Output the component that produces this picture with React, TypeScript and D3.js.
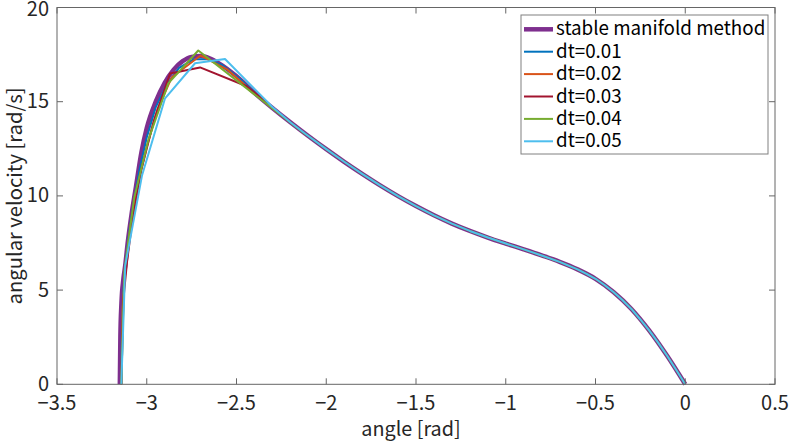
import React, { useEffect } from "react";
import * as d3 from "d3";

type P = [number, number];

const xTicks = [-3.5, -3, -2.5, -2, -1.5, -1, -0.5, 0, 0.5];
const yTicks = [0, 5, 10, 15, 20];

// stable manifold method (angle, angular velocity)
const manifold: P[] = [
  [-3.15, 0], [-3.147, 2.5], [-3.141, 4.3], [-3.13, 5.6], [-3.12, 6.3], [-3.105, 7.6],
  [-3.085, 9.0], [-3.06, 10.5], [-3.03, 12.3], [-3.0, 13.6], [-2.95, 15.0], [-2.9, 16.0],
  [-2.85, 16.7], [-2.8, 17.15], [-2.75, 17.38], [-2.7, 17.42], [-2.65, 17.3], [-2.6, 17.05],
  [-2.5, 16.35], [-2.4, 15.47], [-2.3, 14.67], [-2.2, 13.91], [-2.1, 13.18], [-2.0, 12.48],
  [-1.9, 11.81], [-1.8, 11.17], [-1.7, 10.56], [-1.6, 9.99], [-1.5, 9.46], [-1.4, 8.97],
  [-1.3, 8.53], [-1.2, 8.14], [-1.1, 7.79], [-1.0, 7.47], [-0.9, 7.16], [-0.8, 6.84],
  [-0.7, 6.5], [-0.6, 6.1], [-0.5, 5.6], [-0.4, 4.9], [-0.3, 4.0], [-0.2, 2.85],
  [-0.1, 1.5], [0, 0],
];

// common descending part where all dt trajectories coincide
const sharedTail: P[] = [
  [-2.2, 13.91], [-2.1, 13.18], [-2.0, 12.48], [-1.9, 11.81], [-1.8, 11.17], [-1.7, 10.56],
  [-1.6, 9.99], [-1.5, 9.46], [-1.4, 8.97], [-1.3, 8.53], [-1.2, 8.14], [-1.1, 7.79],
  [-1.0, 7.47], [-0.9, 7.16], [-0.8, 6.84], [-0.7, 6.5], [-0.6, 6.1], [-0.55, 5.86],
  [-0.5, 5.6], [-0.45, 5.27], [-0.4, 4.9], [-0.35, 4.47], [-0.3, 4.0], [-0.25, 3.44],
  [-0.2, 2.85], [-0.15, 2.2], [-0.1, 1.5], [-0.05, 0.76], [0, 0],
];

const dt01Head: P[] = [
  [-3.1416, 0], [-3.138, 3.0], [-3.13, 5.0], [-3.115, 6.6], [-3.095, 8.3], [-3.07, 9.8],
  [-3.04, 11.4], [-3.0, 13.1], [-2.95, 14.7], [-2.89, 15.9], [-2.82, 16.8], [-2.74, 17.25],
  [-2.66, 17.25], [-2.58, 16.95], [-2.48, 16.2], [-2.36, 15.15],
];
const dt02Head: P[] = [
  [-3.1416, 0], [-3.135, 4.0], [-3.12, 6.0], [-3.09, 8.5], [-3.05, 10.6], [-3.0, 12.6],
  [-2.94, 14.6], [-2.86, 16.3], [-2.7, 17.45], [-2.55, 16.7], [-2.4, 15.45],
];
const dt03Head: P[] = [
  [-3.1416, 0], [-3.13, 4.5], [-3.11, 6.5], [-3.08, 8.7], [-3.03, 11.4], [-2.96, 14.0],
  [-2.87, 16.5], [-2.703, 16.82], [-2.443, 15.82],
];
const dt04Head: P[] = [
  [-3.1416, 0], [-3.125, 6.0], [-3.07, 9.9], [-2.99, 13.0], [-2.88, 15.97],
  [-2.713, 17.72], [-2.12, 13.3],
];
const dt05Head: P[] = [
  [-3.1416, 0], [-3.12, 6.3], [-3.026, 11.1], [-2.898, 15.18], [-2.731, 17.04],
  [-2.564, 17.27], [-2.3, 14.72],
];

const legendLabels = ["stable manifold method", "dt=0.01", "dt=0.02", "dt=0.03", "dt=0.04", "dt=0.05"];
const colors = ["#7E2F8E", "#0072BD", "#D95319", "#A2142F", "#77AC30", "#4DBEEE"];
const widths = [4.5, 2, 2, 2, 2, 2];

const withTail = (head: P[]): P[] => {
  const lastX = head[head.length - 1][0];
  return head.concat(sharedTail.filter((p) => p[0] > lastX + 1e-6));
};

const series: P[][] = [
  manifold,
  withTail(dt01Head),
  withTail(dt02Head),
  withTail(dt03Head),
  withTail(dt04Head),
  withTail(dt05Head),
];

const W = 789;
const H = 442;
const L = 57, R = 775, T = 7.5, B = 384.3;
const FONT = "'Noto Sans CJK JP', 'Noto Sans', sans-serif";

export default function App() {
  useEffect(() => {
    document.body.style.margin = "0";
  }, []);
  const x = d3.scaleLinear().domain([-3.5, 0.5]).range([L, R]);
  const y = d3.scaleLinear().domain([0, 20]).range([B, T]);
  const smooth = d3.line<P>().x((d) => x(d[0])).y((d) => y(d[1])).curve(d3.curveMonotoneX);
  const poly = d3.line<P>().x((d) => x(d[0])).y((d) => y(d[1]));
  const fmt = (v: number) => String(v).replace("-", "\u2212");
  const tick = 6;
  const axisColor = "#666";
  const textColor = "#262626";

  const legX = 521, legY = 15, legW = 247, legH = 139;
  const rowH = 22.4;

  return (
    <svg width={W} height={H} style={{ display: "block", background: "#fff" }} fontFamily={FONT}>
      <rect x={0} y={0} width={W} height={H} fill="#fff" />
      {/* lines */}
      <g fill="none" strokeLinejoin="round" strokeLinecap="butt">
        {series.map((s, i) => (
          <path
            key={i}
            d={(i === 0 ? smooth(s) : poly(s)) || ""}
            stroke={colors[i]}
            strokeWidth={widths[i]}
          />
        ))}
      </g>
      {/* box */}
      <rect x={L} y={T} width={R - L} height={B - T} fill="none" stroke={axisColor} strokeWidth={1} />
      {/* ticks */}
      <g stroke={axisColor} strokeWidth={1}>
        {xTicks.map((t) => (
          <g key={"x" + t}>
            <line x1={x(t)} x2={x(t)} y1={B} y2={B - tick} />
            <line x1={x(t)} x2={x(t)} y1={T} y2={T + tick} />
          </g>
        ))}
        {yTicks.map((t) => (
          <g key={"y" + t}>
            <line x1={L} x2={L + tick} y1={y(t)} y2={y(t)} />
            <line x1={R} x2={R - tick} y1={y(t)} y2={y(t)} />
          </g>
        ))}
      </g>
      <g fill={textColor} fontSize={20}>
        {xTicks.map((t) => (
          <text key={"xl" + t} x={x(t)} y={B + 20.5} textAnchor="middle" dominantBaseline="middle">
            {fmt(t)}
          </text>
        ))}
        {yTicks.map((t) => (
          <text key={"yl" + t} x={L - 8} y={Math.max(y(t) + 1, 11)} textAnchor="end" dominantBaseline="middle">
            {fmt(t)}
          </text>
        ))}
      </g>
      <text x={(L + R) / 2 - 5} y={431} textAnchor="middle" dominantBaseline="middle" fontSize={19.8} fill={textColor}>
        angle [rad]
      </text>
      <text
        transform={`translate(17,${(T + B) / 2}) rotate(-90)`}
        textAnchor="middle"
        dominantBaseline="middle"
        fontSize={20.2}
        fill={textColor}
      >
        angular velocity [rad/s]
      </text>
      {/* legend */}
      <rect x={legX} y={legY} width={legW} height={legH} fill="#fff" stroke="#808080" strokeWidth={1} />
      {legendLabels.map((lab, i) => {
        const cy = legY + 14.3 + i * rowH;
        return (
          <g key={lab}>
            <line x1={legX + 3} x2={legX + 32} y1={cy} y2={cy} stroke={colors[i]} strokeWidth={widths[i]} />
            <text x={legX + 35} y={cy + 1} dominantBaseline="middle" fontSize={18.8} fill="#000">
              {lab}
            </text>
          </g>
        );
      })}
    </svg>
  );
}
